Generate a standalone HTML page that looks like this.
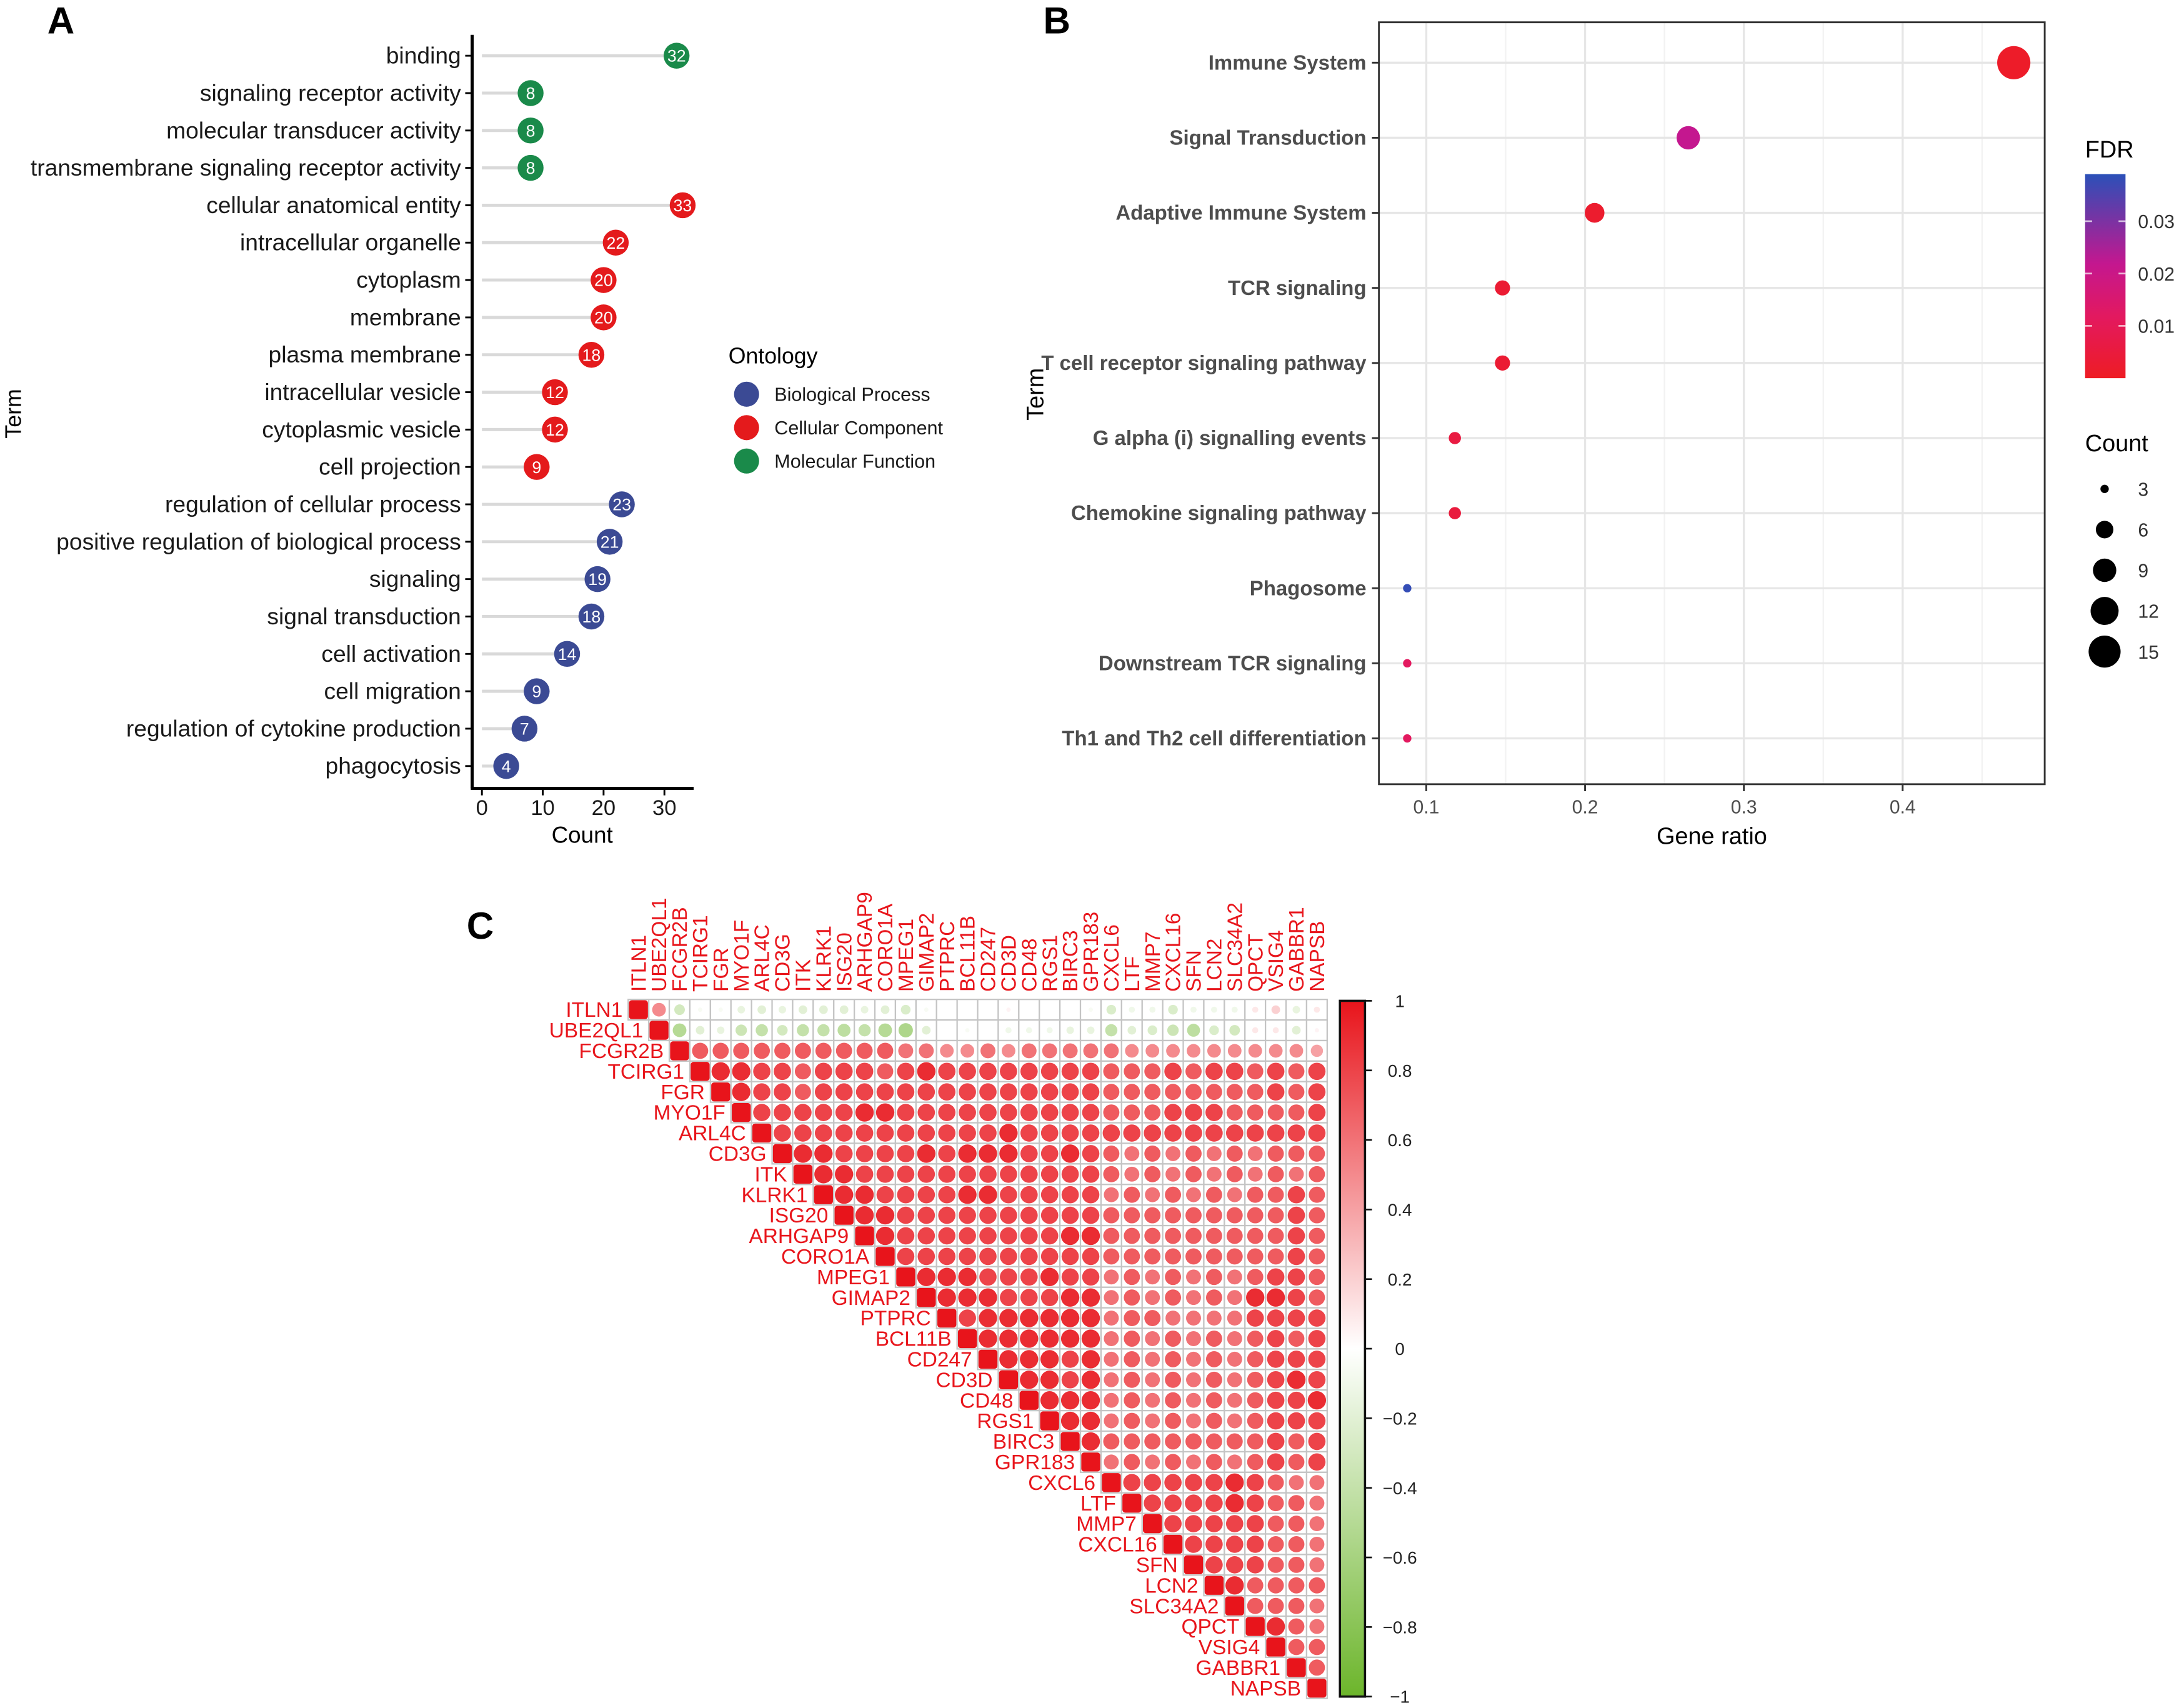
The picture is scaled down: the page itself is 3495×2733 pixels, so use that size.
<!DOCTYPE html>
<html><head><meta charset="utf-8">
<style>
html,body{margin:0;padding:0;background:#fff;}
svg{display:block;font-family:"Liberation Sans",Arial,sans-serif;}
</style></head>
<body>
<svg id="fig" xmlns="http://www.w3.org/2000/svg" width="3495" height="2733" viewBox="0 0 1568 1226.2" preserveAspectRatio="none">
<defs>
<linearGradient id="fdrGrad" x1="0" y1="1" x2="0" y2="0">
<stop offset="0" stop-color="#ee1c24"/>
<stop offset="0.3" stop-color="#e3195f"/>
<stop offset="0.56" stop-color="#c4178f"/>
<stop offset="1" stop-color="#2b50b8"/>
</linearGradient>
<linearGradient id="corrGrad" x1="0" y1="0" x2="0" y2="1">
<stop offset="0" stop-color="#e8141b"/>
<stop offset="0.5" stop-color="#ffffff"/>
<stop offset="1" stop-color="#6cb52b"/>
</linearGradient>
</defs>
</svg>
<script>
// ---------- Panel A data ----------
const termsA = ["binding","signaling receptor activity","molecular transducer activity","transmembrane signaling receptor activity","cellular anatomical entity","intracellular organelle","cytoplasm","membrane","plasma membrane","intracellular vesicle","cytoplasmic vesicle","cell projection","regulation of cellular process","positive regulation of biological process","signaling","signal transduction","cell activation","cell migration","regulation of cytokine production","phagocytosis"];
const countsA = [32,8,8,8,33,22,20,20,18,12,12,9,23,21,19,18,14,9,7,4];
const ontoA = ["MF","MF","MF","MF","CC","CC","CC","CC","CC","CC","CC","CC","BP","BP","BP","BP","BP","BP","BP","BP"];
const ticksA = [0,10,20,30];
// ---------- Panel B data ----------
const termsB = ["Immune System","Signal Transduction","Adaptive Immune System","TCR signaling","T cell receptor signaling pathway","G alpha (i) signalling events","Chemokine signaling pathway","Phagosome","Downstream TCR signaling","Th1 and Th2 cell differentiation"];
const ratioB = [0.47,0.265,0.206,0.148,0.148,0.118,0.118,0.088,0.088,0.088];
const countB = [16,9,7,5,5,4,4,3,3,3];
const fdrB = [0.001,0.022,0.002,0.003,0.003,0.006,0.005,0.038,0.012,0.012];
const ticksB = [0.1,0.2,0.3,0.4];
const fdrTicks = [0.01,0.02,0.03];
const countLegend = [3,6,9,12,15];
// ---------- Panel C data ----------
const genes = ["ITLN1","UBE2QL1","FCGR2B","TCIRG1","FGR","MYO1F","ARL4C","CD3G","ITK","KLRK1","ISG20","ARHGAP9","CORO1A","MPEG1","GIMAP2","PTPRC","BCL11B","CD247","CD3D","CD48","RGS1","BIRC3","GPR183","CXCL6","LTF","MMP7","CXCL16","SFN","LCN2","SLC34A2","QPCT","VSIG4","GABBR1","NAPSB"];
const corrRow0 = [0.5,-0.3,-0.05,-0.05,-0.15,-0.2,-0.15,-0.2,-0.2,-0.2,-0.15,-0.2,-0.25,-0.05,0,0,0,0.05,0,0,0,-0.05,-0.25,-0.1,-0.1,-0.25,-0.1,-0.1,-0.1,0.1,0.2,-0.15,0.1];
const corrRow1 = [-0.5,-0.2,-0.15,-0.35,-0.4,-0.3,-0.4,-0.4,-0.45,-0.4,-0.5,-0.55,-0.2,0,-0.05,0,-0.1,-0.1,-0.1,-0.15,-0.15,-0.4,-0.2,-0.25,-0.35,-0.45,-0.25,-0.3,0.1,0.1,-0.2,0.05];
// rows 2..32, digits = correlation*10 (upper triangle, right of diagonal)
const corrRowsDigits = [
"77777777776655656666"+"65555555554",
"9988788878988888888"+"77787887878",
"988788888888888888"+"77777777878",
"88888998888888888"+"77788877778",
"8888888888898888"+"88888888888",
"998888989998898"+"76767676777",
"99888888888888"+"76767676767",
"9988889988888"+"67676767787",
"998888888888"+"77777777787",
"98888888899"+"77777777787",
"8888888888"+"77777777787",
"999888988"+"67676767887",
"99988899"+"67676769987",
"8999999"+"67766668888",
"999999"+"67676767878",
"99989"+"67676767888",
"9989"+"67676767898",
"999"+"67676767889",
"99"+"67676767888",
"9"+"77777777878",
""+"67676767878",
"8888898766","888898776","88888776","8888776","888776","97777","7776","976","77","7"];
const corrTicks = ["1","0.8","0.6","0.4","0.2","0","\u22120.2","\u22120.4","\u22120.6","\u22120.8","\u22121"];

const NS = "http://www.w3.org/2000/svg";
const svg = document.getElementById('fig');
function mk(tag, attrs, parent, txt){
  const e = document.createElementNS(NS, tag);
  for (const k in attrs) e.setAttribute(k, attrs[k]);
  if (txt !== undefined) e.textContent = txt;
  (parent||svg).appendChild(e);
  return e;
}
function grp(parent){ return mk('g', {}, parent); }

// ================= PANEL A =================
const gA = grp();


let t = mk('text', {x:34, y:24, 'font-size':27, 'font-weight':'bold'}, gA, 'A');


const ax0 = 346, axK = 4.367;
const xA = v => ax0 + v*axK;
const yA0 = 40, yAstep = 26.84;
const yA = i => yA0 + i*yAstep;
const ontoColor = {BP:'#3b4a94', CC:'#e41a1c', MF:'#1a8a4a'};
termsA.forEach((term, i) => {
  const y = yA(i);
  const line = mk('line', {x1:xA(0), y1:y, x2:xA(countsA[i]), y2:y, stroke:'#d9d9d9', 'stroke-width':2.2}, gA);
  
  
  const tk = mk('line', {x1:334, y1:y, x2:339, y2:y, stroke:'#000', 'stroke-width':1.3}, gA);
  
  
  const lb = mk('text', {x:331, y:y+5.6, 'font-size':16.7, 'text-anchor':'end', fill:'#1a1a1a'}, gA, term);
  
  
  const c = mk('circle', {cx:xA(countsA[i]), cy:y, r:9.3, fill:ontoColor[ontoA[i]]}, gA);
  
  
  const ct = mk('text', {x:xA(countsA[i]), y:y+4.3, 'font-size':12, 'text-anchor':'middle', fill:'#fff'}, gA, String(countsA[i]));
  
  
});
let ax = mk('line', {x1:339, y1:25, x2:339, y2:566, stroke:'#000', 'stroke-width':2.2}, gA);


ax = mk('line', {x1:338, y1:566, x2:498, y2:566, stroke:'#000', 'stroke-width':2.2}, gA);


ticksA.forEach(v => {
  const tk = mk('line', {x1:xA(v), y1:566, x2:xA(v), y2:571, stroke:'#000', 'stroke-width':1.3}, gA);
  
  
  const tl = mk('text', {x:xA(v), y:585, 'font-size':15.5, 'text-anchor':'middle', fill:'#1a1a1a'}, gA, String(v));
  
  
});
t = mk('text', {x:418, y:605, 'font-size':16.5, 'text-anchor':'middle'}, gA, 'Count');


t = mk('text', {x:15, y:297, 'font-size':16, 'text-anchor':'middle', transform:'rotate(-90 15 297)'}, gA, 'Term');


// legend A
const lgA = grp(gA);


t = mk('text', {x:523, y:261, 'font-size':16}, lgA, 'Ontology');


const lgNames = [['BP','Biological Process'],['CC','Cellular Component'],['MF','Molecular Function']];
lgNames.forEach((p, i) => {
  const y = 283 + i*24;
  const c = mk('circle', {cx:536, cy:y, r:9, fill:ontoColor[p[0]]}, lgA);
  
  
  const tl = mk('text', {x:556, y:y+4.8, 'font-size':13.7, fill:'#1a1a1a'}, lgA, p[1]);
  
  
});

// ================= PANEL B =================
const gB = grp();


t = mk('text', {x:749, y:24, 'font-size':27, 'font-weight':'bold'}, gB, 'B');


const bx0 = 1024, bK = 1140;
const xB = v => bx0 + (v-0.1)*bK;
const yB = i => 45 + i*53.9;
const pL = 990, pR = 1468, pT = 16, pB = 563;
const minorB = [0.15,0.25,0.35,0.45];
minorB.forEach(v => {
  const g = mk('line', {x1:xB(v), y1:pT, x2:xB(v), y2:pB, stroke:'#f2f2f2', 'stroke-width':1}, gB);
  
  
});
ticksB.forEach(v => {
  const g = mk('line', {x1:xB(v), y1:pT, x2:xB(v), y2:pB, stroke:'#e6e6e6', 'stroke-width':1.5}, gB);
  
  
});
termsB.forEach((term, i) => {
  const g = mk('line', {x1:pL, y1:yB(i), x2:pR, y2:yB(i), stroke:'#e6e6e6', 'stroke-width':1.5}, gB);
  
  
});
let fr = mk('rect', {x:pL, y:pT, width:pR-pL, height:pB-pT, fill:'none', stroke:'#333', 'stroke-width':1.3}, gB);


const sizeR = c => Math.sqrt(Math.max(1, -21.75 + 10.25*c));
const fdrStops = [[0,[238,28,36]],[0.012,[227,25,95]],[0.022,[196,23,143]],[0.039,[43,80,184]]];
function fdrColor(v){
  for (let k=1;k<fdrStops.length;k++){
    if (v <= fdrStops[k][0] || k===fdrStops.length-1){
      const a=fdrStops[k-1], b=fdrStops[k];
      let f=(v-a[0])/(b[0]-a[0]); f=Math.max(0,Math.min(1,f));
      const c=a[1].map((x,j)=>Math.round(x+(b[1][j]-x)*f));
      return 'rgb('+c.join(',')+')';
    }
  }
}
termsB.forEach((term, i) => {
  const y = yB(i);
  const tk = mk('line', {x1:985, y1:y, x2:990, y2:y, stroke:'#333', 'stroke-width':1.3}, gB);
  
  
  const lb = mk('text', {x:981, y:y+5, 'font-size':14.8, 'font-weight':'bold', 'text-anchor':'end', fill:'#4d4d4d'}, gB, term);
  
  
  const c = mk('circle', {cx:xB(ratioB[i]), cy:y, r:sizeR(countB[i]), fill:fdrColor(fdrB[i])}, gB);
  
  
});
ticksB.forEach(v => {
  const tk = mk('line', {x1:xB(v), y1:pB, x2:xB(v), y2:pB+5, stroke:'#333', 'stroke-width':1.3}, gB);
  
  
  const tl = mk('text', {x:xB(v), y:584, 'font-size':13.5, 'text-anchor':'middle', fill:'#4d4d4d'}, gB, String(v));
  
  
});
t = mk('text', {x:1229, y:606, 'font-size':17, 'text-anchor':'middle'}, gB, 'Gene ratio');


t = mk('text', {x:749, y:283, 'font-size':17, 'text-anchor':'middle', transform:'rotate(-90 749 283)'}, gB, 'Term');


// FDR legend
const lgF = grp(gB);


t = mk('text', {x:1497, y:113, 'font-size':17}, lgF, 'FDR');


const fbTop = 125, fbBot = 271.5, fbMax = 0.039;
const yF = v => fbBot - v/fbMax*(fbBot-fbTop);
let cb = mk('rect', {x:1497, y:fbTop, width:29, height:fbBot-fbTop, fill:'url(#fdrGrad)'}, lgF);


fdrTicks.forEach(v => {
  let l = mk('line', {x1:1497, y1:yF(v), x2:1502, y2:yF(v), stroke:'#fff', 'stroke-width':1.2, opacity:0.7}, lgF);
  
  
  l = mk('line', {x1:1521, y1:yF(v), x2:1526, y2:yF(v), stroke:'#fff', 'stroke-width':1.2, opacity:0.7}, lgF);
  
  
  const tl = mk('text', {x:1535, y:yF(v)+5, 'font-size':13.5, fill:'#333'}, lgF, String(v));
  
  
});
// Count legend
const lgC = grp(gB);


t = mk('text', {x:1497, y:324, 'font-size':17}, lgC, 'Count');


countLegend.forEach((v, i) => {
  const y = 351 + i*29.2;
  const c = mk('circle', {cx:1511, cy:y, r:sizeR(v), fill:'#000'}, lgC);
  
  
  const tl = mk('text', {x:1535, y:y+5, 'font-size':13.5, fill:'#333'}, lgC, String(v));
  
  
});

// ================= PANEL C =================
const gC = grp();


t = mk('text', {x:335, y:674, 'font-size':27, 'font-weight':'bold'}, gC, 'C');


const n = genes.length;
const cs = 14.76, mx0 = 451, my0 = 717.5;
const cxC = j => mx0 + (j+0.5)*cs;
const cyC = i => my0 + (i+0.5)*cs;
function corrAt(i, j){
  if (i === j) return 1;
  const d = j - i - 1;
  if (i === 0) return corrRow0[d];
  if (i === 1) return corrRow1[d];
  return parseInt(corrRowsDigits[i-2][d], 10)/10;
}
function corrColor(v){
  const w=[255,255,255], r=[232,20,27], g=[108,181,43];
  const tgt = v>=0 ? r : g, f = Math.min(1, Math.abs(v));
  const c = w.map((x,k)=>Math.round(x+(tgt[k]-x)*f));
  return 'rgb('+c.join(',')+')';
}
for (let i=0;i<n;i++){
  for (let j=i;j<n;j++){
    const cell = mk('rect', {x:mx0+j*cs, y:my0+i*cs, width:cs, height:cs, fill:'#fff', stroke:'#c4c4c4', 'stroke-width':1}, gC);
    
    
  }
}
for (let i=0;i<n;i++){
  for (let j=i;j<n;j++){
    const v = corrAt(i,j);
    if (i===j){
      const s = mk('rect', {x:cxC(j)-6.8, y:cyC(i)-6.8, width:13.6, height:13.6, rx:2, fill:corrColor(v)}, gC);
      
      
    } else {
      const r = 0.47*cs*Math.sqrt(Math.abs(v));
      if (r < 0.3) continue;
      const c = mk('circle', {cx:cxC(j), cy:cyC(i), r:r, fill:corrColor(v)}, gC);
      
      
    }
  }
}
genes.forEach((g, k) => {
  const cl = mk('text', {x:cxC(k)+5.2, y:712, 'font-size':15, fill:'#e8161c', transform:'rotate(-90 '+(cxC(k)+5.2)+' 712)'}, gC, g);
  
  
  const rl = mk('text', {x:mx0+k*cs-4, y:cyC(k)+5.2, 'font-size':15, 'text-anchor':'end', fill:'#e8161c'}, gC, g);
  
  
});
// colorbar C
const cbG = grp(gC);


const cbTop = 718.5, cbBot = 1218;
let cbr = mk('rect', {x:962, y:cbTop, width:18, height:cbBot-cbTop, fill:'url(#corrGrad)', stroke:'#111', 'stroke-width':1.6}, cbG);


corrTicks.forEach((lab, k) => {
  const y = cbTop + k*(cbBot-cbTop)/(corrTicks.length-1);
  const l = mk('line', {x1:980, y1:y, x2:985, y2:y, stroke:'#111', 'stroke-width':1.2}, cbG);
  
  
  const tl = mk('text', {x:1005, y:y+4.5, 'font-size':12.5, 'text-anchor':'middle', fill:'#222'}, cbG, lab);
  
  
});
</script>
</body></html>
